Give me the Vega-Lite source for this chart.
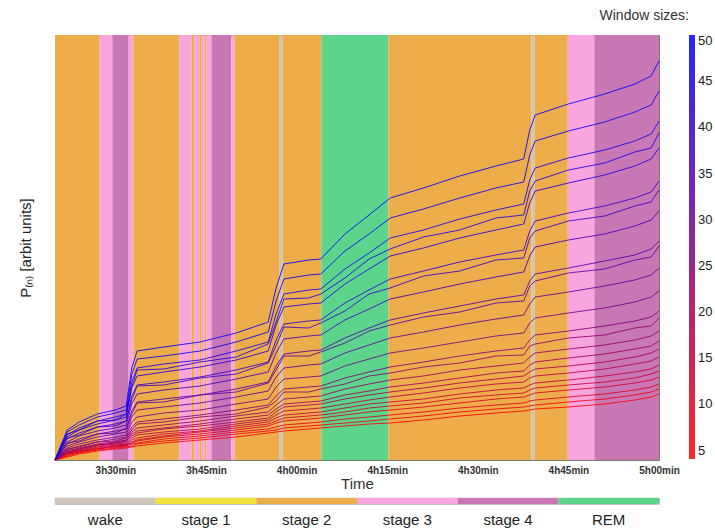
{
  "$schema": "https://vega.github.io/schema/vega-lite/v6.json",
  "background": "white",
  "padding": {"left": 17, "top": 8, "right": 3, "bottom": 3},
  "title": {"text": "Window sizes:", "anchor": "end", "frame": "bounds", "fontSize": 14, "fontWeight": "normal", "font": "Liberation Sans", "color": "#333333", "offset": 12, "dx": -24},
  "config": {"font": "Liberation Sans"},
  "spacing": 5,
  "datasets": {
    "stages": [
      {"stage": "stage 2", "start": 200, "end": 207.4},
      {"stage": "stage 3", "start": 207.4, "end": 209.5},
      {"stage": "stage 4", "start": 209.5, "end": 212.2},
      {"stage": "stage 3", "start": 212.2, "end": 213.0},
      {"stage": "stage 2", "start": 213.0, "end": 220.6},
      {"stage": "stage 3", "start": 220.6, "end": 222.6},
      {"stage": "stage 2", "start": 222.6, "end": 223.1},
      {"stage": "stage 3", "start": 223.1, "end": 223.9},
      {"stage": "stage 2", "start": 223.9, "end": 224.3},
      {"stage": "stage 3", "start": 224.3, "end": 224.8},
      {"stage": "stage 2", "start": 224.8, "end": 225.1},
      {"stage": "stage 3", "start": 225.1, "end": 225.9},
      {"stage": "stage 4", "start": 225.9, "end": 229.2},
      {"stage": "stage 3", "start": 229.2, "end": 229.7},
      {"stage": "stage 2", "start": 229.7, "end": 237.2},
      {"stage": "wake", "start": 237.2, "end": 237.7},
      {"stage": "stage 2", "start": 237.7, "end": 244.1},
      {"stage": "REM", "start": 244.1, "end": 255.2},
      {"stage": "stage 2", "start": 255.2, "end": 278.9},
      {"stage": "wake", "start": 278.9, "end": 279.4},
      {"stage": "stage 2", "start": 279.4, "end": 284.9},
      {"stage": "stage 3", "start": 284.9, "end": 289.3},
      {"stage": "stage 4", "start": 289.3, "end": 300}
    ],
    "hyp": [
      {"stage": "wake"}, {"stage": "stage 1"}, {"stage": "stage 2"},
      {"stage": "stage 3"}, {"stage": "stage 4"}, {"stage": "REM"}
    ],
    "lines": [
{"w":5,"t":200,"p":0},{"w":5,"t":202,"p":3},{"w":5,"t":204,"p":6},{"w":5,"t":207,"p":9},{"w":5,"t":210,"p":11},{"w":5,"t":211.8,"p":12},{"w":5,"t":212.7,"p":13},{"w":5,"t":213.6,"p":14},{"w":5,"t":218,"p":17},{"w":5,"t":224,"p":20},{"w":5,"t":230,"p":23},{"w":5,"t":235.3,"p":27},{"w":5,"t":236.6,"p":28},{"w":5,"t":237.9,"p":29},{"w":5,"t":242,"p":31},{"w":5,"t":244,"p":32},{"w":5,"t":248,"p":34},{"w":5,"t":252,"p":36},{"w":5,"t":255.5,"p":37},{"w":5,"t":261,"p":40},{"w":5,"t":267,"p":44},{"w":5,"t":273,"p":47},{"w":5,"t":277.6,"p":49},{"w":5,"t":278.6,"p":50},{"w":5,"t":279.5,"p":51},{"w":5,"t":285,"p":53},{"w":5,"t":291,"p":56},{"w":5,"t":296,"p":60},{"w":5,"t":298.7,"p":63},{"w":5,"t":300,"p":66},
{"w":7,"t":200,"p":0},{"w":7,"t":202,"p":4},{"w":7,"t":204,"p":7},{"w":7,"t":207,"p":10},{"w":7,"t":210,"p":12},{"w":7,"t":211.8,"p":13},{"w":7,"t":212.7,"p":14},{"w":7,"t":213.6,"p":16},{"w":7,"t":218,"p":19},{"w":7,"t":224,"p":22},{"w":7,"t":230,"p":26},{"w":7,"t":235.3,"p":29},{"w":7,"t":236.6,"p":30},{"w":7,"t":237.9,"p":32},{"w":7,"t":242,"p":34},{"w":7,"t":244,"p":35},{"w":7,"t":248,"p":37},{"w":7,"t":252,"p":39},{"w":7,"t":255.5,"p":41},{"w":7,"t":261,"p":44},{"w":7,"t":267,"p":48},{"w":7,"t":273,"p":51},{"w":7,"t":277.6,"p":53},{"w":7,"t":278.6,"p":54},{"w":7,"t":279.5,"p":55},{"w":7,"t":285,"p":58},{"w":7,"t":291,"p":61},{"w":7,"t":296,"p":65},{"w":7,"t":298.7,"p":68},{"w":7,"t":300,"p":71},
{"w":9,"t":200,"p":0},{"w":9,"t":202,"p":5},{"w":9,"t":204,"p":8},{"w":9,"t":207,"p":11},{"w":9,"t":210,"p":13},{"w":9,"t":211.8,"p":14},{"w":9,"t":212.7,"p":16},{"w":9,"t":213.6,"p":17},{"w":9,"t":218,"p":21},{"w":9,"t":224,"p":24},{"w":9,"t":230,"p":28},{"w":9,"t":235.3,"p":31},{"w":9,"t":236.6,"p":33},{"w":9,"t":237.9,"p":35},{"w":9,"t":242,"p":37},{"w":9,"t":244,"p":38},{"w":9,"t":248,"p":41},{"w":9,"t":252,"p":43},{"w":9,"t":255.5,"p":45},{"w":9,"t":261,"p":48},{"w":9,"t":267,"p":52},{"w":9,"t":273,"p":55},{"w":9,"t":277.6,"p":57},{"w":9,"t":278.6,"p":59},{"w":9,"t":279.5,"p":60},{"w":9,"t":285,"p":63},{"w":9,"t":291,"p":66},{"w":9,"t":296,"p":70},{"w":9,"t":298.7,"p":73},{"w":9,"t":300,"p":76},
{"w":11,"t":200,"p":0},{"w":11,"t":202,"p":6},{"w":11,"t":204,"p":8},{"w":11,"t":207,"p":11},{"w":11,"t":210,"p":14},{"w":11,"t":211.8,"p":15},{"w":11,"t":212.7,"p":17},{"w":11,"t":213.6,"p":19},{"w":11,"t":218,"p":23},{"w":11,"t":224,"p":26},{"w":11,"t":230,"p":30},{"w":11,"t":235.3,"p":34},{"w":11,"t":236.6,"p":37},{"w":11,"t":237.9,"p":39},{"w":11,"t":242,"p":41},{"w":11,"t":244,"p":42},{"w":11,"t":248,"p":45},{"w":11,"t":252,"p":48},{"w":11,"t":255.5,"p":50},{"w":11,"t":261,"p":53},{"w":11,"t":267,"p":57},{"w":11,"t":273,"p":61},{"w":11,"t":277.6,"p":63},{"w":11,"t":278.6,"p":65},{"w":11,"t":279.5,"p":67},{"w":11,"t":285,"p":70},{"w":11,"t":291,"p":73},{"w":11,"t":296,"p":77},{"w":11,"t":298.7,"p":80},{"w":11,"t":300,"p":83},
{"w":13,"t":200,"p":0},{"w":13,"t":202,"p":6},{"w":13,"t":204,"p":9},{"w":13,"t":207,"p":12},{"w":13,"t":210,"p":14},{"w":13,"t":211.8,"p":15},{"w":13,"t":212.7,"p":18},{"w":13,"t":213.6,"p":20},{"w":13,"t":218,"p":24},{"w":13,"t":224,"p":28},{"w":13,"t":230,"p":32},{"w":13,"t":235.3,"p":36},{"w":13,"t":236.6,"p":39},{"w":13,"t":237.9,"p":42},{"w":13,"t":242,"p":44},{"w":13,"t":244,"p":45},{"w":13,"t":248,"p":48},{"w":13,"t":252,"p":52},{"w":13,"t":255.5,"p":54},{"w":13,"t":261,"p":57},{"w":13,"t":267,"p":62},{"w":13,"t":273,"p":65},{"w":13,"t":277.6,"p":67},{"w":13,"t":278.6,"p":70},{"w":13,"t":279.5,"p":72},{"w":13,"t":285,"p":75},{"w":13,"t":291,"p":78},{"w":13,"t":296,"p":82},{"w":13,"t":298.7,"p":86},{"w":13,"t":300,"p":89},
{"w":15,"t":200,"p":0},{"w":15,"t":202,"p":7},{"w":15,"t":204,"p":9},{"w":15,"t":207,"p":13},{"w":15,"t":210,"p":15},{"w":15,"t":211.8,"p":16},{"w":15,"t":212.7,"p":20},{"w":15,"t":213.6,"p":22},{"w":15,"t":218,"p":26},{"w":15,"t":224,"p":29},{"w":15,"t":230,"p":34},{"w":15,"t":235.3,"p":38},{"w":15,"t":236.6,"p":42},{"w":15,"t":237.9,"p":45},{"w":15,"t":242,"p":47},{"w":15,"t":244,"p":48},{"w":15,"t":248,"p":52},{"w":15,"t":252,"p":56},{"w":15,"t":255.5,"p":58},{"w":15,"t":261,"p":61},{"w":15,"t":267,"p":66},{"w":15,"t":273,"p":70},{"w":15,"t":277.6,"p":72},{"w":15,"t":278.6,"p":75},{"w":15,"t":279.5,"p":77},{"w":15,"t":285,"p":80},{"w":15,"t":291,"p":84},{"w":15,"t":296,"p":88},{"w":15,"t":298.7,"p":91},{"w":15,"t":300,"p":95},
{"w":17,"t":200,"p":0},{"w":17,"t":202,"p":7},{"w":17,"t":204,"p":10},{"w":17,"t":207,"p":14},{"w":17,"t":210,"p":16},{"w":17,"t":211.8,"p":17},{"w":17,"t":212.7,"p":22},{"w":17,"t":213.6,"p":25},{"w":17,"t":218,"p":28},{"w":17,"t":224,"p":31},{"w":17,"t":230,"p":36},{"w":17,"t":235.3,"p":40},{"w":17,"t":236.6,"p":45},{"w":17,"t":237.9,"p":49},{"w":17,"t":242,"p":51},{"w":17,"t":244,"p":52},{"w":17,"t":248,"p":56},{"w":17,"t":252,"p":60},{"w":17,"t":255.5,"p":63},{"w":17,"t":261,"p":67},{"w":17,"t":267,"p":72},{"w":17,"t":273,"p":76},{"w":17,"t":277.6,"p":78},{"w":17,"t":278.6,"p":82},{"w":17,"t":279.5,"p":84},{"w":17,"t":285,"p":87},{"w":17,"t":291,"p":91},{"w":17,"t":296,"p":96},{"w":17,"t":298.7,"p":99},{"w":17,"t":300,"p":103},
{"w":19,"t":200,"p":0},{"w":19,"t":202,"p":8},{"w":19,"t":204,"p":11},{"w":19,"t":207,"p":15},{"w":19,"t":210,"p":17},{"w":19,"t":211.8,"p":19},{"w":19,"t":212.7,"p":24},{"w":19,"t":213.6,"p":27},{"w":19,"t":218,"p":31},{"w":19,"t":224,"p":34},{"w":19,"t":230,"p":38},{"w":19,"t":235.3,"p":42},{"w":19,"t":236.6,"p":48},{"w":19,"t":237.9,"p":53},{"w":19,"t":242,"p":55},{"w":19,"t":244,"p":56},{"w":19,"t":248,"p":61},{"w":19,"t":252,"p":65},{"w":19,"t":255.5,"p":68},{"w":19,"t":261,"p":72},{"w":19,"t":267,"p":77},{"w":19,"t":273,"p":81},{"w":19,"t":277.6,"p":84},{"w":19,"t":278.6,"p":88},{"w":19,"t":279.5,"p":91},{"w":19,"t":285,"p":94},{"w":19,"t":291,"p":98},{"w":19,"t":296,"p":103},{"w":19,"t":298.7,"p":107},{"w":19,"t":300,"p":111},
{"w":21,"t":200,"p":0},{"w":21,"t":202,"p":8},{"w":21,"t":204,"p":11},{"w":21,"t":207,"p":15},{"w":21,"t":210,"p":17},{"w":21,"t":211.8,"p":19},{"w":21,"t":212.7,"p":26},{"w":21,"t":213.6,"p":29},{"w":21,"t":218,"p":32},{"w":21,"t":224,"p":36},{"w":21,"t":230,"p":41},{"w":21,"t":235.3,"p":45},{"w":21,"t":236.6,"p":51},{"w":21,"t":237.9,"p":56},{"w":21,"t":242,"p":58},{"w":21,"t":244,"p":59},{"w":21,"t":248,"p":65},{"w":21,"t":252,"p":69},{"w":21,"t":255.5,"p":73},{"w":21,"t":261,"p":77},{"w":21,"t":267,"p":82},{"w":21,"t":273,"p":87},{"w":21,"t":277.6,"p":89},{"w":21,"t":278.6,"p":95},{"w":21,"t":279.5,"p":98},{"w":21,"t":285,"p":102},{"w":21,"t":291,"p":106},{"w":21,"t":296,"p":111},{"w":21,"t":298.7,"p":114},{"w":21,"t":300,"p":119},
{"w":23,"t":200,"p":0},{"w":23,"t":202,"p":9},{"w":23,"t":204,"p":12},{"w":23,"t":207,"p":16},{"w":23,"t":210,"p":18},{"w":23,"t":211.8,"p":20},{"w":23,"t":212.7,"p":28},{"w":23,"t":213.6,"p":32},{"w":23,"t":218,"p":35},{"w":23,"t":224,"p":39},{"w":23,"t":230,"p":44},{"w":23,"t":235.3,"p":48},{"w":23,"t":236.6,"p":55},{"w":23,"t":237.9,"p":61},{"w":23,"t":242,"p":63},{"w":23,"t":244,"p":64},{"w":23,"t":248,"p":71},{"w":23,"t":252,"p":76},{"w":23,"t":255.5,"p":80},{"w":23,"t":261,"p":84},{"w":23,"t":267,"p":90},{"w":23,"t":273,"p":94},{"w":23,"t":277.6,"p":97},{"w":23,"t":278.6,"p":103},{"w":23,"t":279.5,"p":107},{"w":23,"t":285,"p":111},{"w":23,"t":291,"p":115},{"w":23,"t":296,"p":120},{"w":23,"t":298.7,"p":124},{"w":23,"t":300,"p":129},
{"w":24,"t":200,"p":0},{"w":24,"t":202,"p":11},{"w":24,"t":204,"p":13},{"w":24,"t":207,"p":18},{"w":24,"t":210,"p":19},{"w":24,"t":211.8,"p":22},{"w":24,"t":212.7,"p":30},{"w":24,"t":213.6,"p":36},{"w":24,"t":218,"p":38},{"w":24,"t":224,"p":43},{"w":24,"t":230,"p":46},{"w":24,"t":235.3,"p":53},{"w":24,"t":236.6,"p":59},{"w":24,"t":237.9,"p":68},{"w":24,"t":242,"p":68},{"w":24,"t":244,"p":71},{"w":24,"t":248,"p":76},{"w":24,"t":252,"p":84},{"w":24,"t":255.5,"p":87},{"w":24,"t":261,"p":93},{"w":24,"t":267,"p":97},{"w":24,"t":273,"p":104},{"w":24,"t":277.6,"p":105},{"w":24,"t":278.6,"p":114},{"w":24,"t":279.5,"p":116},{"w":24,"t":285,"p":122},{"w":24,"t":291,"p":125},{"w":24,"t":296,"p":132},{"w":24,"t":298.7,"p":134},{"w":24,"t":300,"p":142},
{"w":26,"t":200,"p":0},{"w":26,"t":202,"p":10},{"w":26,"t":204,"p":14},{"w":26,"t":207,"p":18},{"w":26,"t":210,"p":21},{"w":26,"t":211.8,"p":23},{"w":26,"t":212.7,"p":33},{"w":26,"t":213.6,"p":38},{"w":26,"t":218,"p":41},{"w":26,"t":224,"p":45},{"w":26,"t":230,"p":50},{"w":26,"t":235.3,"p":55},{"w":26,"t":236.6,"p":64},{"w":26,"t":237.9,"p":71},{"w":26,"t":242,"p":73},{"w":26,"t":244,"p":74},{"w":26,"t":248,"p":82},{"w":26,"t":252,"p":88},{"w":26,"t":255.5,"p":93},{"w":26,"t":261,"p":98},{"w":26,"t":267,"p":104},{"w":26,"t":273,"p":109},{"w":26,"t":277.6,"p":112},{"w":26,"t":278.6,"p":120},{"w":26,"t":279.5,"p":125},{"w":26,"t":285,"p":129},{"w":26,"t":291,"p":134},{"w":26,"t":296,"p":139},{"w":26,"t":298.7,"p":143},{"w":26,"t":300,"p":149},
{"w":29,"t":200,"p":0},{"w":29,"t":202,"p":12},{"w":29,"t":204,"p":16},{"w":29,"t":207,"p":20},{"w":29,"t":210,"p":23},{"w":29,"t":211.8,"p":25},{"w":29,"t":212.7,"p":38},{"w":29,"t":213.6,"p":43},{"w":29,"t":218,"p":47},{"w":29,"t":224,"p":50},{"w":29,"t":230,"p":56},{"w":29,"t":235.3,"p":61},{"w":29,"t":236.6,"p":73},{"w":29,"t":237.9,"p":81},{"w":29,"t":242,"p":83},{"w":29,"t":244,"p":84},{"w":29,"t":248,"p":94},{"w":29,"t":252,"p":101},{"w":29,"t":255.5,"p":107},{"w":29,"t":261,"p":112},{"w":29,"t":267,"p":118},{"w":29,"t":273,"p":124},{"w":29,"t":277.6,"p":127},{"w":29,"t":278.6,"p":137},{"w":29,"t":279.5,"p":142},{"w":29,"t":285,"p":147},{"w":29,"t":291,"p":152},{"w":29,"t":296,"p":158},{"w":29,"t":298.7,"p":163},{"w":29,"t":300,"p":169},
{"w":32,"t":200,"p":0},{"w":32,"t":202,"p":14},{"w":32,"t":204,"p":18},{"w":32,"t":207,"p":23},{"w":32,"t":210,"p":26},{"w":32,"t":211.8,"p":28},{"w":32,"t":212.7,"p":43},{"w":32,"t":213.6,"p":50},{"w":32,"t":218,"p":53},{"w":32,"t":224,"p":57},{"w":32,"t":230,"p":63},{"w":32,"t":235.3,"p":69},{"w":32,"t":236.6,"p":83},{"w":32,"t":237.9,"p":92},{"w":32,"t":242,"p":95},{"w":32,"t":244,"p":96},{"w":32,"t":248,"p":107},{"w":32,"t":252,"p":115},{"w":32,"t":255.5,"p":122},{"w":32,"t":261,"p":128},{"w":32,"t":267,"p":135},{"w":32,"t":273,"p":141},{"w":32,"t":277.6,"p":145},{"w":32,"t":278.6,"p":156},{"w":32,"t":279.5,"p":163},{"w":32,"t":285,"p":168},{"w":32,"t":291,"p":174},{"w":32,"t":296,"p":180},{"w":32,"t":298.7,"p":185},{"w":32,"t":300,"p":192},
{"w":34,"t":200,"p":0},{"w":34,"t":202,"p":17},{"w":34,"t":204,"p":19},{"w":34,"t":207,"p":26},{"w":34,"t":210,"p":27},{"w":34,"t":211.8,"p":32},{"w":34,"t":212.7,"p":46},{"w":34,"t":213.6,"p":57},{"w":34,"t":218,"p":58},{"w":34,"t":224,"p":65},{"w":34,"t":230,"p":68},{"w":34,"t":235.3,"p":77},{"w":34,"t":236.6,"p":90},{"w":34,"t":237.9,"p":104},{"w":34,"t":242,"p":104},{"w":34,"t":244,"p":108},{"w":34,"t":248,"p":117},{"w":34,"t":252,"p":129},{"w":34,"t":255.5,"p":135},{"w":34,"t":261,"p":143},{"w":34,"t":267,"p":148},{"w":34,"t":273,"p":157},{"w":34,"t":277.6,"p":159},{"w":34,"t":278.6,"p":174},{"w":34,"t":279.5,"p":179},{"w":34,"t":285,"p":187},{"w":34,"t":291,"p":191},{"w":34,"t":296,"p":200},{"w":34,"t":298.7,"p":203},{"w":34,"t":300,"p":214},
{"w":35,"t":200,"p":0},{"w":35,"t":202,"p":16},{"w":35,"t":204,"p":21},{"w":35,"t":207,"p":26},{"w":35,"t":210,"p":29},{"w":35,"t":211.8,"p":31},{"w":35,"t":212.7,"p":49},{"w":35,"t":213.6,"p":58},{"w":35,"t":218,"p":61},{"w":35,"t":224,"p":65},{"w":35,"t":230,"p":71},{"w":35,"t":235.3,"p":78},{"w":35,"t":236.6,"p":94},{"w":35,"t":237.9,"p":106},{"w":35,"t":242,"p":109},{"w":35,"t":244,"p":110},{"w":35,"t":248,"p":122},{"w":35,"t":252,"p":132},{"w":35,"t":255.5,"p":140},{"w":35,"t":261,"p":147},{"w":35,"t":267,"p":154},{"w":35,"t":273,"p":161},{"w":35,"t":277.6,"p":165},{"w":35,"t":278.6,"p":179},{"w":35,"t":279.5,"p":186},{"w":35,"t":285,"p":192},{"w":35,"t":291,"p":199},{"w":35,"t":296,"p":205},{"w":35,"t":298.7,"p":211},{"w":35,"t":300,"p":219},
{"w":38,"t":200,"p":0},{"w":38,"t":202,"p":18},{"w":38,"t":204,"p":24},{"w":38,"t":207,"p":29},{"w":38,"t":210,"p":32},{"w":38,"t":211.8,"p":35},{"w":38,"t":212.7,"p":56},{"w":38,"t":213.6,"p":66},{"w":38,"t":218,"p":70},{"w":38,"t":224,"p":74},{"w":38,"t":230,"p":81},{"w":38,"t":235.3,"p":88},{"w":38,"t":236.6,"p":107},{"w":38,"t":237.9,"p":121},{"w":38,"t":242,"p":124},{"w":38,"t":244,"p":125},{"w":38,"t":248,"p":140},{"w":38,"t":252,"p":151},{"w":38,"t":255.5,"p":161},{"w":38,"t":261,"p":168},{"w":38,"t":267,"p":176},{"w":38,"t":273,"p":183},{"w":38,"t":277.6,"p":188},{"w":38,"t":278.6,"p":204},{"w":38,"t":279.5,"p":213},{"w":38,"t":285,"p":220},{"w":38,"t":291,"p":226},{"w":38,"t":296,"p":234},{"w":38,"t":298.7,"p":240},{"w":38,"t":300,"p":249},
{"w":40,"t":200,"p":0},{"w":40,"t":202,"p":22},{"w":40,"t":204,"p":25},{"w":40,"t":207,"p":33},{"w":40,"t":210,"p":34},{"w":40,"t":211.8,"p":39},{"w":40,"t":212.7,"p":60},{"w":40,"t":213.6,"p":74},{"w":40,"t":218,"p":75},{"w":40,"t":224,"p":82},{"w":40,"t":230,"p":86},{"w":40,"t":235.3,"p":97},{"w":40,"t":236.6,"p":114},{"w":40,"t":237.9,"p":133},{"w":40,"t":242,"p":132},{"w":40,"t":244,"p":137},{"w":40,"t":248,"p":149},{"w":40,"t":252,"p":166},{"w":40,"t":255.5,"p":172},{"w":40,"t":261,"p":184},{"w":40,"t":267,"p":189},{"w":40,"t":273,"p":200},{"w":40,"t":277.6,"p":202},{"w":40,"t":278.6,"p":222},{"w":40,"t":279.5,"p":229},{"w":40,"t":285,"p":239},{"w":40,"t":291,"p":244},{"w":40,"t":296,"p":254},{"w":40,"t":298.7,"p":258},{"w":40,"t":300,"p":270},
{"w":41,"t":200,"p":0},{"w":41,"t":202,"p":21},{"w":41,"t":204,"p":27},{"w":41,"t":207,"p":33},{"w":41,"t":210,"p":36},{"w":41,"t":211.8,"p":39},{"w":41,"t":212.7,"p":64},{"w":41,"t":213.6,"p":75},{"w":41,"t":218,"p":78},{"w":41,"t":224,"p":83},{"w":41,"t":230,"p":90},{"w":41,"t":235.3,"p":98},{"w":41,"t":236.6,"p":120},{"w":41,"t":237.9,"p":136},{"w":41,"t":242,"p":139},{"w":41,"t":244,"p":140},{"w":41,"t":248,"p":157},{"w":41,"t":252,"p":170},{"w":41,"t":255.5,"p":181},{"w":41,"t":261,"p":189},{"w":41,"t":267,"p":198},{"w":41,"t":273,"p":205},{"w":41,"t":277.6,"p":210},{"w":41,"t":278.6,"p":229},{"w":41,"t":279.5,"p":239},{"w":41,"t":285,"p":247},{"w":41,"t":291,"p":254},{"w":41,"t":296,"p":262},{"w":41,"t":298.7,"p":268},{"w":41,"t":300,"p":279},
{"w":44,"t":200,"p":0},{"w":44,"t":202,"p":23},{"w":44,"t":204,"p":30},{"w":44,"t":207,"p":36},{"w":44,"t":210,"p":40},{"w":44,"t":211.8,"p":43},{"w":44,"t":212.7,"p":72},{"w":44,"t":213.6,"p":84},{"w":44,"t":218,"p":88},{"w":44,"t":224,"p":93},{"w":44,"t":230,"p":100},{"w":44,"t":235.3,"p":109},{"w":44,"t":236.6,"p":135},{"w":44,"t":237.9,"p":153},{"w":44,"t":242,"p":156},{"w":44,"t":244,"p":157},{"w":44,"t":248,"p":176},{"w":44,"t":252,"p":191},{"w":44,"t":255.5,"p":204},{"w":44,"t":261,"p":212},{"w":44,"t":267,"p":222},{"w":44,"t":273,"p":230},{"w":44,"t":277.6,"p":236},{"w":44,"t":278.6,"p":257},{"w":44,"t":279.5,"p":269},{"w":44,"t":285,"p":277},{"w":44,"t":291,"p":285},{"w":44,"t":296,"p":294},{"w":44,"t":298.7,"p":301},{"w":44,"t":300,"p":312},
{"w":45,"t":200,"p":0},{"w":45,"t":202,"p":26},{"w":45,"t":204,"p":30},{"w":45,"t":207,"p":39},{"w":45,"t":210,"p":40},{"w":45,"t":211.8,"p":46},{"w":45,"t":212.7,"p":73},{"w":45,"t":213.6,"p":90},{"w":45,"t":218,"p":91},{"w":45,"t":224,"p":98},{"w":45,"t":230,"p":103},{"w":45,"t":235.3,"p":116},{"w":45,"t":236.6,"p":138},{"w":45,"t":237.9,"p":161},{"w":45,"t":242,"p":162},{"w":45,"t":244,"p":166},{"w":45,"t":248,"p":182},{"w":45,"t":252,"p":201},{"w":45,"t":255.5,"p":211},{"w":45,"t":261,"p":223},{"w":45,"t":267,"p":230},{"w":45,"t":273,"p":242},{"w":45,"t":277.6,"p":245},{"w":45,"t":278.6,"p":269},{"w":45,"t":279.5,"p":279},{"w":45,"t":285,"p":290},{"w":45,"t":291,"p":297},{"w":45,"t":296,"p":308},{"w":45,"t":298.7,"p":312},{"w":45,"t":300,"p":327},
{"w":46,"t":200,"p":0},{"w":46,"t":202,"p":25},{"w":46,"t":204,"p":32},{"w":46,"t":207,"p":39},{"w":46,"t":210,"p":43},{"w":46,"t":211.8,"p":46},{"w":46,"t":212.7,"p":78},{"w":46,"t":213.6,"p":92},{"w":46,"t":218,"p":96},{"w":46,"t":224,"p":100},{"w":46,"t":230,"p":109},{"w":46,"t":235.3,"p":118},{"w":46,"t":236.6,"p":146},{"w":46,"t":237.9,"p":166},{"w":46,"t":242,"p":170},{"w":46,"t":244,"p":171},{"w":46,"t":248,"p":191},{"w":46,"t":252,"p":207},{"w":46,"t":255.5,"p":222},{"w":46,"t":261,"p":230},{"w":46,"t":267,"p":241},{"w":46,"t":273,"p":250},{"w":46,"t":277.6,"p":256},{"w":46,"t":278.6,"p":280},{"w":46,"t":279.5,"p":292},{"w":46,"t":285,"p":302},{"w":46,"t":291,"p":310},{"w":46,"t":296,"p":319},{"w":46,"t":298.7,"p":326},{"w":46,"t":300,"p":339},
{"w":48,"t":200,"p":0},{"w":48,"t":202,"p":28},{"w":48,"t":204,"p":35},{"w":48,"t":207,"p":43},{"w":48,"t":210,"p":47},{"w":48,"t":211.8,"p":50},{"w":48,"t":212.7,"p":85},{"w":48,"t":213.6,"p":101},{"w":48,"t":218,"p":104},{"w":48,"t":224,"p":109},{"w":48,"t":230,"p":118},{"w":48,"t":235.3,"p":128},{"w":48,"t":236.6,"p":159},{"w":48,"t":237.9,"p":181},{"w":48,"t":242,"p":185},{"w":48,"t":244,"p":186},{"w":48,"t":248,"p":209},{"w":48,"t":252,"p":226},{"w":48,"t":255.5,"p":242},{"w":48,"t":261,"p":251},{"w":48,"t":267,"p":262},{"w":48,"t":273,"p":272},{"w":48,"t":277.6,"p":278},{"w":48,"t":278.6,"p":305},{"w":48,"t":279.5,"p":319},{"w":48,"t":285,"p":329},{"w":48,"t":291,"p":338},{"w":48,"t":296,"p":348},{"w":48,"t":298.7,"p":355},{"w":48,"t":300,"p":369},
{"w":50,"t":200,"p":0},{"w":50,"t":202,"p":30},{"w":50,"t":204,"p":38},{"w":50,"t":207,"p":46},{"w":50,"t":210,"p":50},{"w":50,"t":211.8,"p":54},{"w":50,"t":212.7,"p":92},{"w":50,"t":213.6,"p":109},{"w":50,"t":218,"p":113},{"w":50,"t":224,"p":118},{"w":50,"t":230,"p":127},{"w":50,"t":235.3,"p":138},{"w":50,"t":236.6,"p":172},{"w":50,"t":237.9,"p":196},{"w":50,"t":242,"p":200},{"w":50,"t":244,"p":201},{"w":50,"t":248,"p":226},{"w":50,"t":252,"p":245},{"w":50,"t":255.5,"p":262},{"w":50,"t":261,"p":272},{"w":50,"t":267,"p":284},{"w":50,"t":273,"p":294},{"w":50,"t":277.6,"p":301},{"w":50,"t":278.6,"p":330},{"w":50,"t":279.5,"p":345},{"w":50,"t":285,"p":356},{"w":50,"t":291,"p":366},{"w":50,"t":296,"p":376},{"w":50,"t":298.7,"p":384},{"w":50,"t":300,"p":399}
    ]
  },
  "vconcat": [
    {
      "width": 604,
      "height": 425,
      "view": {"stroke": "#7a7a6a", "strokeWidth": 1},
      "layer": [
        {
          "data": {"name": "stages"},
          "mark": {"type": "rect"},
          "encoding": {
            "x": {
              "field": "start", "type": "quantitative",
              "scale": {"domain": [200, 300], "nice": false, "zero": false},
              "axis": {
                "values": [210, 225, 240, 255, 270, 285, 300],
                "labelExpr": "floor(datum.value / 60) + 'h' + (datum.value % 60 < 10 ? '0' : '') + (datum.value % 60) + 'min'",
                "ticks": false, "domain": false, "grid": false,
                "labelFontSize": 10, "labelFontWeight": "bold", "labelColor": "#333333",
                "labelPadding": 5, "labelFlush": false,
                "title": "Time", "titleFontSize": 15, "titleFontWeight": "normal",
                "titleColor": "#333333", "titlePadding": 1
              }
            },
            "x2": {"field": "end"},
            "fill": {
              "field": "stage", "type": "nominal",
              "scale": {
                "domain": ["wake", "stage 1", "stage 2", "stage 3", "stage 4", "REM"],
                "range": ["#CDC4BC", "#F0E43C", "#EEAD4B", "#FAA6DE", "#C777B3", "#5CD48C"]
              },
              "legend": null
            }
          }
        },
        {
          "data": {"name": "lines"},
          "mark": {"type": "line", "strokeWidth": 1, "opacity": 0.85},
          "encoding": {
            "x": {"field": "t", "type": "quantitative"},
            "y": {
              "field": "p", "type": "quantitative",
              "scale": {"domain": [0, 425], "nice": false},
              "axis": {
                "title": "P₍ₙ₎  [arbit  units]", "labels": false, "ticks": false,
                "domain": false, "grid": false, "titleFontSize": 15,
                "titleFontWeight": "normal", "titleColor": "#222222", "titlePadding": 22
              }
            },
            "stroke": {
              "field": "w", "type": "quantitative",
              "scale": {"domain": [4.1, 50], "range": ["#ff0000", "#0000ff"], "interpolate": "rgb"},
              "legend": {
                "orient": "right", "offset": 9, "title": null,
                "gradientLength": 424, "gradientThickness": 6,
                "values": [5, 10, 15, 20, 25, 30, 35, 40, 45, 50],
                "labelFontSize": 13, "labelColor": "#222222", "labelOffset": 3,
                "gradientStrokeWidth": 0
              }
            }
          }
        }
      ]
    },
    {
      "width": 604,
      "height": 6,
      "view": {"stroke": "#a0a0a0", "strokeWidth": 0.8},
      "data": {"name": "hyp"},
      "mark": {"type": "rect"},
      "encoding": {
        "x": {
          "field": "stage", "type": "nominal",
          "scale": {"domain": ["wake", "stage 1", "stage 2", "stage 3", "stage 4", "REM"], "paddingInner": 0, "paddingOuter": 0},
          "axis": {
            "title": null, "ticks": false, "domain": false, "labelAngle": 0,
            "labelFontSize": 15, "labelPadding": 8, "labelColor": "#222222"
          }
        },
        "fill": {
          "field": "stage", "type": "nominal",
          "scale": {
            "domain": ["wake", "stage 1", "stage 2", "stage 3", "stage 4", "REM"],
            "range": ["#CDC4BC", "#F0E43C", "#EEAD4B", "#FAA6DE", "#C777B3", "#5CD48C"]
          },
          "legend": null
        }
      }
    }
  ]
}
